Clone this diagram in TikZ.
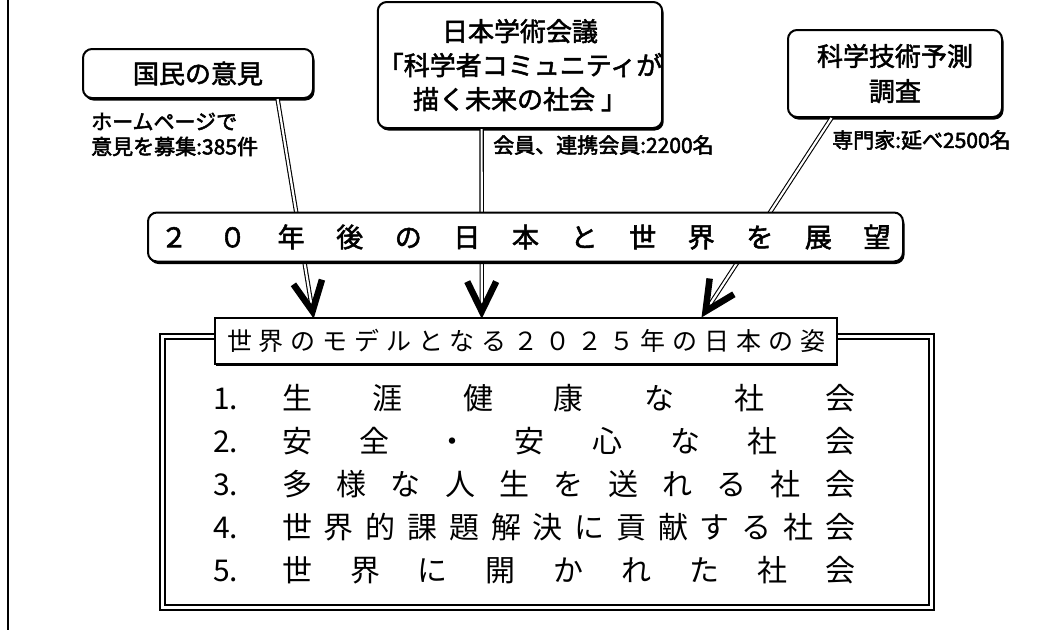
\documentclass[tikz,border=0pt]{standalone}
\usepackage{fontspec}
\setmainfont{Noto Sans CJK JP}
\newfontfamily\jpmed{Noto Sans CJK JP}[FakeBold=2]
\newfontfamily\jpsemi{Noto Sans CJK JP}[FakeBold=2.5]
\usetikzlibrary{calc,shadows}
\begin{document}
\begin{tikzpicture}[x=1pt,y=-1pt,
  rbox/.style={draw,line width=2pt,rounded corners=9pt,fill=white,
    general shadow={fill=black,shadow xshift=1.5pt,shadow yshift=-2.5pt},
    inner sep=0pt,align=center,font=\jpmed\fontsize{26}{35}\selectfont},
  tbox/.style={draw,line width=1.5pt,fill=white,
    general shadow={fill=black,shadow xshift=1pt,shadow yshift=-1.5pt},
    inner sep=0pt,font=\fontsize{25}{25}\selectfont},
  note/.style={anchor=west,inner sep=0pt,align=left,font=\jpsemi\fontsize{21}{25}\selectfont},
  row/.style={anchor=west,inner sep=0pt,font=\fontsize{30}{30}\selectfont},
  dbl/.style={draw=black,double=white,double distance=2.2pt,line width=1.1pt},
  vtip/.style={line width=6.5pt,line join=miter,miter limit=10},
  frame/.style={draw=black,double=white,double distance=3pt,line width=2.2pt}
]
\useasboundingbox (0,0) rectangle (1041,630);
% page edge
\draw[line width=1.5pt] (8,0) -- (8,630);
% outer frame
\draw[frame] (162.5,336.5) rectangle (931.5,607.5);
% title box
\node[tbox,minimum width=622pt,minimum height=46pt] (title) at (526,341)
  {\makebox[598pt]{世\hfill 界\hfill の\hfill モ\hfill デ\hfill ル\hfill と\hfill な\hfill る\hfill ２\hfill ０\hfill ２\hfill ５\hfill 年\hfill の\hfill 日\hfill 本\hfill の\hfill 姿}};
% top boxes
\node[rbox,minimum width=230pt,minimum height=49pt] (kokumin) at (198,73.5) {\raisebox{1.5pt}{国民の意見}};
\node[rbox,minimum width=276pt,minimum height=126pt] (gakujutsu) at (520,65)
  {\raisebox{-3pt}[\height][\depth]{\begin{tabular}{@{}c@{}}日本学術会議\\[-1pt]「科学者コミュニティが\\[-1pt]描く未来の社会 」\end{tabular}}};
\node[rbox,minimum width=214pt,minimum height=87pt] (yosoku) at (895,73.5) {科学技術予測\\調査};
% notes
\node[note] (hp) at (91,134.5) {ホームページで\\意見を募集:385件};
\node[note] (kaiin) at (493,145) {会員、連携会員:2200名};
\node[note] (senmon) at (832,140) {専門家:延べ2500名};
% connector coordinates
\coordinate (s1) at ($(kokumin.south west)!0.843!(kokumin.south east)$);
\coordinate (s2) at ($(gakujutsu.south west)!0.366!(gakujutsu.south east)$);
\coordinate (s3) at ($(yosoku.south west)!0.206!(yosoku.south east)$);
\coordinate (t1) at ($(title.north west)!0.1576!(title.north east)+(0,-6)$);
\coordinate (t2) at ($(title.north west)!0.429!(title.north east)+(0,-6)$);
\coordinate (t3) at ($(title.north west)!0.788!(title.north east)+(0,-6)$);
\draw[dbl] (s1) -- (t1);
\draw[dbl] (s2) -- (t2);
\draw[dbl] (s3) -- (t3);
% band
\node[rbox,minimum width=755pt,minimum height=49pt,font=\jpmed\fontsize{27}{27}\selectfont] (band) at (525.5,237)
  {\makebox[730pt]{２\hfill ０\hfill 年\hfill 後\hfill の\hfill 日\hfill 本\hfill と\hfill 世\hfill 界\hfill を\hfill 展\hfill 望}};
% arrow heads
\draw[vtip] ($(t1)!33pt!26:(s1)$) -- (t1) -- ($(t1)!33pt!-26:(s1)$);
\draw[vtip] ($(t2)!33pt!26:(s2)$) -- (t2) -- ($(t2)!33pt!-26:(s2)$);
\draw[vtip] ($(t3)!33pt!26:(s3)$) -- (t3) -- ($(t3)!33pt!-26:(s3)$);
% list rows
\node[row] (r1) at (213,398) {\makebox[69pt][l]{1.}\makebox[573pt]{生\hfill 涯\hfill 健\hfill 康\hfill な\hfill 社\hfill 会}};
\node[row] (r2) at (213,441) {\makebox[69pt][l]{2.}\makebox[573pt]{安\hfill 全\hfill ・\hfill 安\hfill 心\hfill な\hfill 社\hfill 会}};
\node[row] (r3) at (213,484) {\makebox[69pt][l]{3.}\makebox[573pt]{多\hfill 様\hfill な\hfill 人\hfill 生\hfill を\hfill 送\hfill れ\hfill る\hfill 社\hfill 会}};
\node[row] (r4) at (213,527) {\makebox[69pt][l]{4.}\makebox[573pt]{世\hfill 界\hfill 的\hfill 課\hfill 題\hfill 解\hfill 決\hfill に\hfill 貢\hfill 献\hfill す\hfill る\hfill 社\hfill 会}};
\node[row] (r5) at (213,570) {\makebox[69pt][l]{5.}\makebox[573pt]{世\hfill 界\hfill に\hfill 開\hfill か\hfill れ\hfill た\hfill 社\hfill 会}};
\end{tikzpicture}
\end{document}
